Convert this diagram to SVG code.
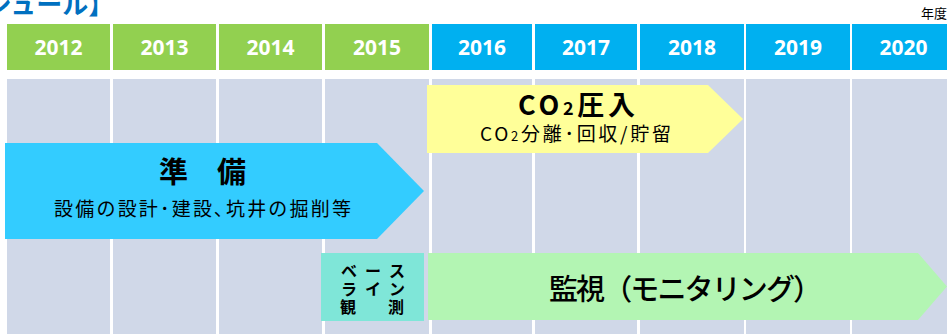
<svg xmlns="http://www.w3.org/2000/svg" width="947" height="334" viewBox="0 0 947 334">
<style>
.col{fill:#D0D8E8}
.hg{fill:#92D050}
.hb{fill:#00B0F0}
.yr{font-family:"Noto Sans","Open Sans",sans-serif;font-weight:bold;font-size:21px;fill:#FFFFFF;text-anchor:middle}
.jp{font-family:"Noto Sans CJK JP","Noto Sans",sans-serif;fill:#000000}
.title{font-family:"Noto Sans CJK JP",sans-serif;font-weight:bold;font-size:26px;fill:#0070C0}
.bl{font-family:"Noto Sans CJK JP",sans-serif;font-weight:bold;font-size:16px;fill:#000000}
</style>
<rect width="947" height="334" fill="#FFFFFF"/>
<g id="title">
<text class="title" x="-14" y="14">ジュール】</text>
<text class="jp" x="947" y="18" font-size="13" text-anchor="end">年度</text>
</g>
<g id="grid">
<rect class="col" x="7" y="79" width="103" height="255"/>
<rect class="col" x="113" y="79" width="103" height="255"/>
<rect class="col" x="219" y="79" width="103" height="255"/>
<rect class="col" x="325" y="79" width="104" height="255"/>
<rect class="col" x="432" y="79" width="100" height="255"/>
<rect class="col" x="535" y="79" width="102" height="255"/>
<rect class="col" x="640" y="79" width="104" height="255"/>
<rect class="col" x="746" y="79" width="104" height="255"/>
<rect class="col" x="852" y="79" width="103" height="255"/>
</g>
<g id="header">
<rect class="hg" x="7" y="24" width="103" height="46"/>
<rect class="hg" x="113" y="24" width="103" height="46"/>
<rect class="hg" x="219" y="24" width="103" height="46"/>
<rect class="hg" x="325" y="24" width="104" height="46"/>
<rect class="hb" x="432" y="24" width="100" height="46"/>
<rect class="hb" x="535" y="24" width="102" height="46"/>
<rect class="hb" x="640" y="24" width="104" height="46"/>
<rect class="hb" x="746" y="24" width="104" height="46"/>
<rect class="hb" x="852" y="24" width="103" height="46"/>
<text class="yr" x="58.5" y="55">2012</text>
<text class="yr" x="164.5" y="55">2013</text>
<text class="yr" x="270.5" y="55">2014</text>
<text class="yr" x="377" y="55">2015</text>
<text class="yr" x="482" y="55">2016</text>
<text class="yr" x="586" y="55">2017</text>
<text class="yr" x="692" y="55">2018</text>
<text class="yr" x="798" y="55">2019</text>
<text class="yr" x="903.5" y="55">2020</text>
</g>
<g id="prep">
<polygon points="5,143 377,143 424,191 377,239 5,239" fill="#33CCFF"/>
<text class="jp" x="202.5" y="183" font-size="29" font-weight="bold" text-anchor="middle">準　備</text>
<text class="jp" x="54" y="216" font-size="19" textLength="297" lengthAdjust="spacing">設備の設計･建設､坑井の掘削等</text>
</g>
<g id="injection">
<polygon points="427,85 708,85 743,119 708,153 427,153" fill="#FFFF99"/>
<text class="jp" x="518" y="115" font-size="27" font-weight="bold" textLength="117" lengthAdjust="spacing">CO<tspan font-size="18">2</tspan>圧入</text>
<text class="jp" x="480" y="141" font-size="19" textLength="191" lengthAdjust="spacing">CO<tspan font-size="13">2</tspan>分離･回収/貯留</text>
</g>
<g id="baseline">
<rect x="321" y="253" width="103" height="68" fill="#7FE6D8"/>
<text class="bl" x="341 365 389" y="277">ベース</text>
<text class="bl" x="341 365 389" y="295">ライン</text>
<text class="bl" x="340 388" y="313" font-size="17">観測</text>
</g>
<g id="monitoring">
<polygon points="428,253 918,253 947,286.5 918,320 428,320" fill="#B3F5B3"/>
<text class="jp" x="549" y="300" font-size="29" font-weight="500" textLength="273" lengthAdjust="spacing">監視（モニタリング）</text>
</g>
</svg>
